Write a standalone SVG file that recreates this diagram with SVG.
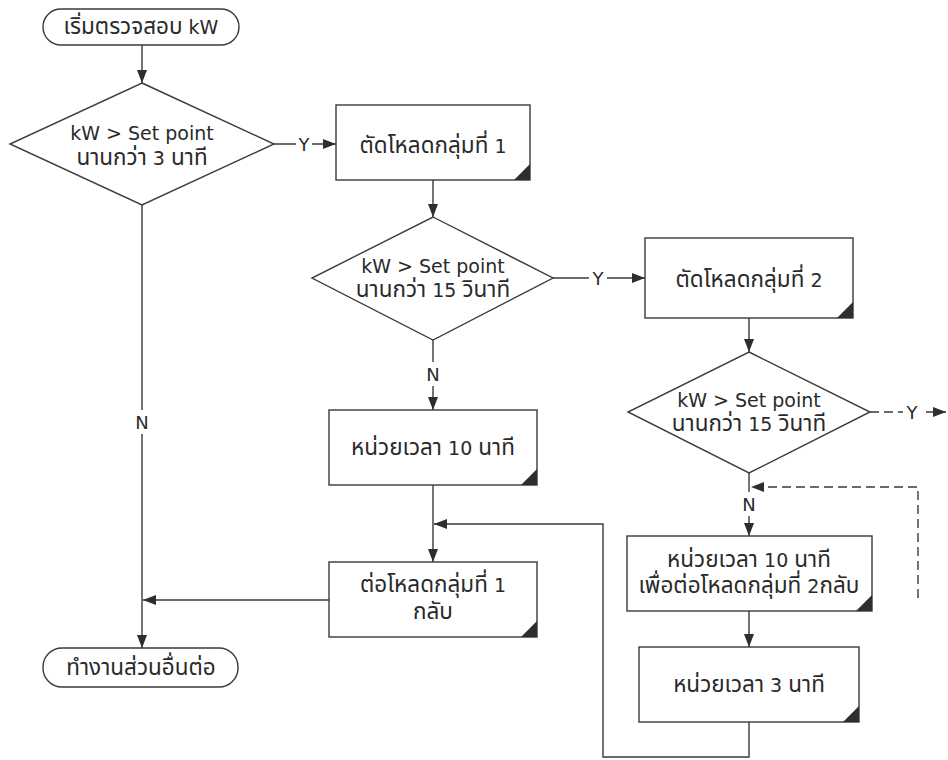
<svg xmlns="http://www.w3.org/2000/svg" width="948" height="760" viewBox="0 0 948 760">
  <style>
    .shape { fill: #ffffff; stroke: #3a3a3a; stroke-width: 1.4; }
    .corner { fill: #2e2e2e; stroke: none; }
    .line { fill: none; stroke: #3a3a3a; stroke-width: 1.4; }
    .dash { fill: none; stroke: #3a3a3a; stroke-width: 1.4; stroke-dasharray: 9 5; }
    .txt { font-family: "DejaVu Sans", "Noto Sans Thai", "Noto Sans", sans-serif; font-size: 19px; fill: #2a2a2a; text-anchor: middle; }
    .th { font-size: 22.5px; }
    .lbl { font-family: "DejaVu Sans", "Noto Sans", sans-serif; font-size: 18px; fill: #2a2a2a; text-anchor: middle; }
    .bg { fill: #ffffff; stroke: none; }
  </style>
  <defs>
    <marker id="arrow" markerWidth="14" markerHeight="10" refX="13" refY="5" orient="auto" markerUnits="userSpaceOnUse">
      <path d="M0,0 L13,5 L0,10 Z" fill="#2e2e2e"/>
    </marker>
  </defs>
  <rect width="948" height="760" fill="#ffffff"/>

  <!-- connectors -->
  <g id="connectors">
    <path class="line" d="M142,45 V83" marker-end="url(#arrow)"/>
    <path class="line" d="M274,144 H336" marker-end="url(#arrow)"/>
    <path class="line" d="M433,180 V217" marker-end="url(#arrow)"/>
    <path class="line" d="M553,278 H645" marker-end="url(#arrow)"/>
    <path class="line" d="M749,318 V352" marker-end="url(#arrow)"/>
    <path class="dash" d="M870,412 H946" marker-end="url(#arrow)"/>
    <path class="line" d="M749,473 V536" marker-end="url(#arrow)"/>
    <path class="dash" d="M918,598 V487 H751" marker-end="url(#arrow)"/>
    <path class="line" d="M749,611 V647" marker-end="url(#arrow)"/>
    <path class="line" d="M749,722 V757 H603 V524 H434" marker-end="url(#arrow)"/>
    <path class="line" d="M433,340 V410" marker-end="url(#arrow)"/>
    <path class="line" d="M433,485 V562" marker-end="url(#arrow)"/>
    <path class="line" d="M329,600 H143" marker-end="url(#arrow)"/>
    <path class="line" d="M142,205 V648" marker-end="url(#arrow)"/>

    <!-- branch labels -->
    <rect class="bg" x="296" y="134" width="16" height="20"/>
    <text class="lbl" x="304" y="151">Y</text>
    <rect class="bg" x="589" y="268" width="18" height="20"/>
    <text class="lbl" x="598" y="285">Y</text>
    <rect class="bg" x="903" y="402" width="18" height="20"/>
    <text class="lbl" x="912" y="419">Y</text>
    <rect class="bg" x="133" y="410" width="18" height="24"/>
    <text class="lbl" x="142" y="429">N</text>
    <rect class="bg" x="424" y="362" width="18" height="24"/>
    <text class="lbl" x="433" y="381">N</text>
    <rect class="bg" x="740" y="492" width="18" height="24"/>
    <text class="lbl" x="749" y="511">N</text>
  </g>

  <g id="start">
    <rect class="shape" x="43" y="9" width="196" height="36" rx="18"/>
    <text class="txt" x="141" y="34"><tspan class="th">เริ่มตรวจสอบ</tspan> kW</text>
  </g>

  <g id="check-3min">
    <polygon class="shape" points="142,83 274,144 142,205 10,144"/>
    <text class="txt" x="142" y="140">kW &gt; Set point</text>
    <text class="txt" x="142" y="165"><tspan class="th">นานกว่า</tspan> 3 <tspan class="th">นาที</tspan></text>
  </g>

  <g id="shed-group-1">
    <rect class="shape" x="336" y="105" width="194" height="75"/>
    <path class="corner" d="M530,164 V180 H514 Z"/>
    <text class="txt" x="433" y="153"><tspan class="th">ตัดโหลดกลุ่มที่</tspan> 1</text>
  </g>

  <g id="check-15s-a">
    <polygon class="shape" points="433,217 553,278 433,340 312,278"/>
    <text class="txt" x="433" y="273">kW &gt; Set point</text>
    <text class="txt" x="433" y="297"><tspan class="th">นานกว่า</tspan> 15 <tspan class="th">วินาที</tspan></text>
  </g>

  <g id="shed-group-2">
    <rect class="shape" x="645" y="238" width="208" height="80"/>
    <path class="corner" d="M853,302 V318 H837 Z"/>
    <text class="txt" x="749" y="287"><tspan class="th">ตัดโหลดกลุ่มที่</tspan> 2</text>
  </g>

  <g id="check-15s-b">
    <polygon class="shape" points="749,352 870,412 749,473 628,412"/>
    <text class="txt" x="749" y="407">kW &gt; Set point</text>
    <text class="txt" x="749" y="431"><tspan class="th">นานกว่า</tspan> 15 <tspan class="th">วินาที</tspan></text>
  </g>

  <g id="delay-10min-a">
    <rect class="shape" x="329" y="410" width="208" height="75"/>
    <path class="corner" d="M537,469 V485 H521 Z"/>
    <text class="txt" x="433" y="455"><tspan class="th">หน่วยเวลา</tspan> 10 <tspan class="th">นาที</tspan></text>
  </g>

  <g id="restore-group-1">
    <rect class="shape" x="329" y="562" width="208" height="75"/>
    <path class="corner" d="M537,621 V637 H521 Z"/>
    <text class="txt" x="433" y="592"><tspan class="th">ต่อโหลดกลุ่มที่</tspan> 1</text>
    <text class="txt" x="433" y="619"><tspan class="th">กลับ</tspan></text>
  </g>

  <g id="delay-10min-b">
    <rect class="shape" x="627" y="536" width="245" height="75"/>
    <path class="corner" d="M872,595 V611 H856 Z"/>
    <text class="txt" x="749" y="567"><tspan class="th">หน่วยเวลา</tspan> 10 <tspan class="th">นาที</tspan></text>
    <text class="txt" x="749" y="593"><tspan class="th">เพื่อต่อโหลดกลุ่มที่</tspan> 2<tspan class="th">กลับ</tspan></text>
  </g>

  <g id="delay-3min">
    <rect class="shape" x="639" y="647" width="220" height="75"/>
    <path class="corner" d="M859,706 V722 H843 Z"/>
    <text class="txt" x="749" y="692"><tspan class="th">หน่วยเวลา</tspan> 3 <tspan class="th">นาที</tspan></text>
  </g>

  <g id="end">
    <rect class="shape" x="43" y="648" width="195" height="39" rx="19"/>
    <text class="txt" x="141" y="675"><tspan class="th">ทำงานส่วนอื่นต่อ</tspan></text>
  </g>
</svg>
